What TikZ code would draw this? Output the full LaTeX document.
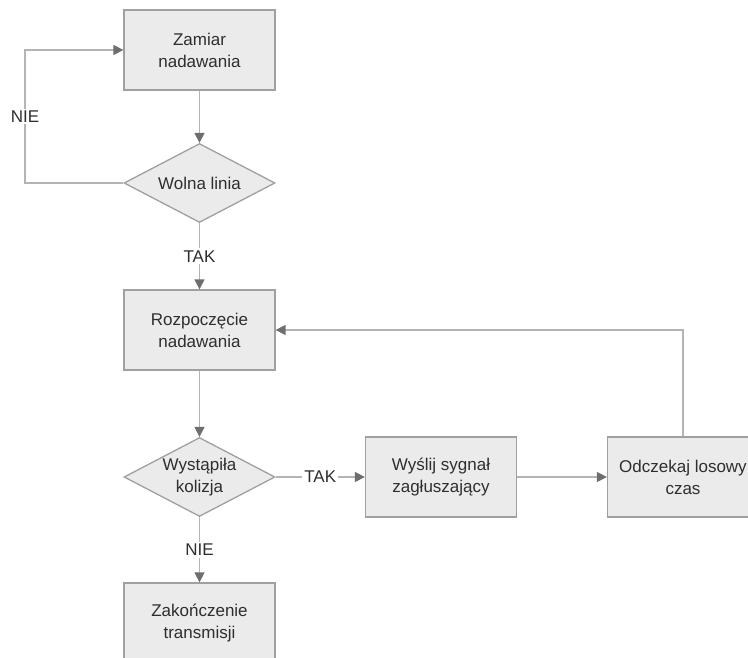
\documentclass[tikz,border=0pt]{standalone}
\usepackage{fontspec}
\setmainfont{Liberation Sans}
\usetikzlibrary{shapes.geometric,arrows.meta}
\definecolor{boxfill}{HTML}{EBEBEB}
\definecolor{boxline}{HTML}{A0A0A0}
\definecolor{connline}{HTML}{B4B4B4}
\definecolor{tipgray}{HTML}{6E6E6E}
\definecolor{txt}{HTML}{2E2E2E}
\begin{document}
\begin{tikzpicture}[x=1pt,y=-1pt,
  every node/.style={font=\fontsize{17}{22}\selectfont, text=txt},
  stepbox/.style={draw=boxline, line width=1.3pt, fill=boxfill, rectangle,
    minimum width=151pt, minimum height=80pt, inner sep=0pt, align=center},
  decision/.style={draw=boxline, line width=1.3pt, fill=boxfill, diamond,
    minimum width=151pt, minimum height=79pt, inner sep=0pt},
  conn/.style={draw=connline, line width=1.4pt, -{Triangle[length=10pt,width=10pt,color=tipgray]}},
  lbl/.style={fill=white, inner sep=2pt}
]
\clip (0,0) rectangle (748,658);
\fill[white] (0,0) rectangle (748,658);

\node[stepbox] (zamiar) at (199.5,50) {Zamiar\\nadawania};
\node[decision, label={[align=center]center:Wolna linia}] (wolna) at (199.5,183) {};
\node[stepbox] (rozp) at (199.5,330) {Rozpoczęcie\\nadawania};
\node[decision, label={[align=center]center:Wystąpiła\\kolizja}] (kol) at (199.5,477) {};
\node[stepbox] (wysl) at (441,477) {Wyślij sygnał\\zagłuszający};
\node[stepbox] (odcz) at (683,477) {Odczekaj losowy\\czas};
\node[stepbox] (zak) at (199.5,623) {Zakończenie\\transmisji};

\coordinate (nw) at (25,50);

\draw[conn] (zamiar) -- (wolna);
\draw[conn] (wolna.west) -| node[pos=0.75, lbl] {NIE} (nw) -- (zamiar.west);
\draw[conn] (wolna) -- node[lbl] {TAK} (rozp);
\draw[conn] (rozp) -- (kol);
\draw[conn] (kol) -- node[lbl] {TAK} (wysl);
\draw[conn] (wysl) -- (odcz);
\draw[conn] (odcz.north) |- (rozp.east);
\draw[conn] (kol) -- node[lbl] {NIE} (zak);
\end{tikzpicture}
\end{document}
